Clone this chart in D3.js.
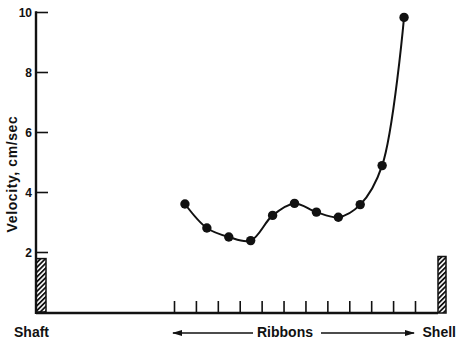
<!DOCTYPE html>
<html>
<head>
<meta charset="utf-8">
<script src="https://cdn.jsdelivr.net/npm/d3@7"></script>
<style>
  html, body { margin: 0; padding: 0; background: #fff; }
  svg { display: block; }
  text { font-family: "Liberation Sans", Arial, sans-serif; font-weight: 700; fill: #111; }
</style>
</head>
<body>
<svg id="chart" width="456" height="343"></svg>
<script>
// Velocity measured midway between neighbouring ribbons (ribbon gaps 0..10)
const ribbonGaps = [0.5, 1.5, 2.5, 3.5, 4.5, 5.5, 6.5, 7.5, 8.5, 9.5, 10.5];
const velocity   = [3.6, 2.8, 2.5, 2.38, 3.22, 3.62, 3.33, 3.16, 3.58, 4.88, 9.82];
// Ribbon positions along the radius (tick marks on the floor)
const ribbonTicks = [0, 1, 2, 3, 4, 5, 6, 7, 8, 9, 10, 11];
// Velocity axis ticks
const velocityTicks = [2, 4, 6, 8, 10];
// Wall heights (hatched walls at the shaft and the shell)
const shaftWallTop = 1.78;
const shellWallTop = 1.85;

const svg = d3.select("#chart");
const ink = "#111";

const shaftX = 36, shellX = 438, floorY = 312;
const x = d3.scaleLinear().domain([0, 11]).range([174, 415]);
const y = d3.scaleLinear().domain([0, 10]).range([floorY, 12]);

// diagonal hatch for the walls
const defs = svg.append("defs");
const pat = defs.append("pattern")
  .attr("id", "hatch").attr("patternUnits", "userSpaceOnUse")
  .attr("width", 3.4).attr("height", 3.4)
  .attr("patternTransform", "rotate(45)");
pat.append("rect").attr("width", 3.4).attr("height", 3.4).attr("fill", "#fff");
pat.append("line").attr("x1", 0.9).attr("y1", 0).attr("x2", 0.9).attr("y2", 3.4)
  .attr("stroke", ink).attr("stroke-width", 1.8);

// shaft wall
svg.append("rect")
  .attr("x", shaftX).attr("y", y(shaftWallTop))
  .attr("width", 10).attr("height", floorY - y(shaftWallTop))
  .attr("fill", "url(#hatch)").attr("stroke", ink).attr("stroke-width", 1.5);
// shell wall
svg.append("rect")
  .attr("x", shellX).attr("y", y(shellWallTop))
  .attr("width", 8).attr("height", floorY + 1 - y(shellWallTop))
  .attr("fill", "url(#hatch)").attr("stroke", ink).attr("stroke-width", 1.5);

// velocity axis, ticks pointing inward
const yAxis = d3.axisRight(y).tickValues(velocityTicks).tickSize(12).tickFormat("");
const gy = svg.append("g").attr("transform", `translate(${shaftX},0)`).call(yAxis);
gy.select(".domain").remove();
gy.selectAll(".tick line").attr("stroke", ink).attr("stroke-width", 1.6);
svg.append("line")
  .attr("x1", shaftX).attr("x2", shaftX)
  .attr("y1", y(10) - 0.8).attr("y2", floorY + 2)
  .attr("stroke", ink).attr("stroke-width", 2.4);
svg.selectAll(".ylab").data(velocityTicks).enter().append("text")
  .attr("class", "ylab")
  .attr("x", shaftX - 4).attr("y", d => y(d) + 4.5)
  .attr("text-anchor", "end").attr("font-size", 12)
  .text(d => d);

// floor with ribbon ticks
svg.append("line")
  .attr("x1", shaftX).attr("x2", shellX)
  .attr("y1", floorY + 1).attr("y2", floorY + 1)
  .attr("stroke", ink).attr("stroke-width", 2.4);
const xAxis = d3.axisTop(x).tickValues(ribbonTicks).tickSize(12).tickFormat("");
const gx = svg.append("g").attr("transform", `translate(0,${floorY + 1})`).call(xAxis);
gx.select(".domain").remove();
gx.selectAll(".tick line").attr("stroke", ink).attr("stroke-width", 1.6);

// y title
svg.append("text")
  .attr("transform", `translate(17,${174}) rotate(-90)`)
  .attr("text-anchor", "middle").attr("font-size", 14)
  .attr("letter-spacing", 0.6)
  .text("Velocity, cm/sec");

// bottom labels
svg.append("text").attr("x", 14).attr("y", 337).attr("font-size", 14).text("Shaft");
svg.append("text").attr("x", 456).attr("y", 337).attr("text-anchor", "end").attr("font-size", 14).text("Shell");
svg.append("text").attr("x", 285).attr("y", 337).attr("text-anchor", "middle").attr("font-size", 14).text("Ribbons");

// arrows
defs.append("marker").attr("id", "arrow").attr("viewBox", "0 0 10 6")
  .attr("refX", 9).attr("refY", 3).attr("markerWidth", 10).attr("markerHeight", 6)
  .attr("markerUnits", "userSpaceOnUse").attr("orient", "auto")
  .append("path").attr("d", "M0,0 L10,3 L0,6 Z").attr("fill", ink);
svg.append("line").attr("x1", 253).attr("x2", 173).attr("y1", 333).attr("y2", 333)
  .attr("stroke", ink).attr("stroke-width", 1.4).attr("marker-end", "url(#arrow)");
svg.append("line").attr("x1", 321).attr("x2", 414).attr("y1", 333).attr("y2", 333)
  .attr("stroke", ink).attr("stroke-width", 1.4).attr("marker-end", "url(#arrow)");

// velocity curve and points
const pts = ribbonGaps.map((g, i) => [g, velocity[i]]);
const line = d3.line().x(d => x(d[0])).y(d => y(d[1])).curve(d3.curveCatmullRom.alpha(0.5));
svg.append("path").datum(pts).attr("d", line)
  .attr("fill", "none").attr("stroke", ink).attr("stroke-width", 2);
svg.selectAll(".pt").data(pts).enter().append("circle")
  .attr("class", "pt")
  .attr("cx", d => x(d[0])).attr("cy", d => y(d[1])).attr("r", 4.7)
  .attr("fill", ink);
</script>
</body>
</html>
